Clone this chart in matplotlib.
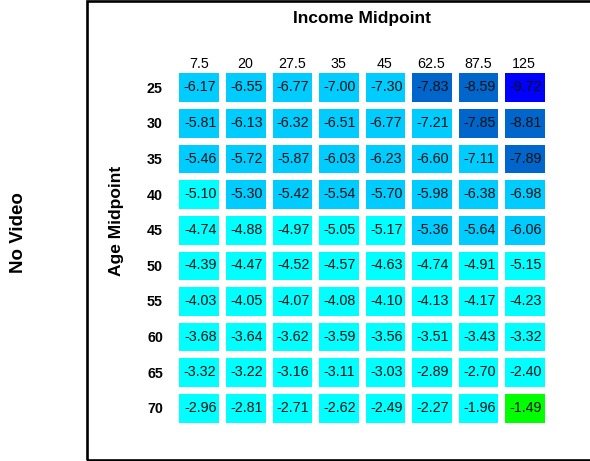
import matplotlib
matplotlib.use("Agg")
import matplotlib.pyplot as plt
import numpy as np
from matplotlib.colors import ListedColormap, BoundaryNorm
from matplotlib.patches import Rectangle

plt.rcParams['font.family'] = ['Liberation Sans', 'DejaVu Sans']

# income midpoints (columns) and age midpoints (rows)
income_labels = ["7.5", "20", "27.5", "35", "45", "62.5", "87.5", "125"]
age_labels = ["25", "30", "35", "40", "45", "50", "55", "60", "65", "70"]

age_25 = [-6.17, -6.55, -6.77, -7.00, -7.30, -7.83, -8.59, -9.72]
age_30 = [-5.81, -6.13, -6.32, -6.51, -6.77, -7.21, -7.85, -8.81]
age_35 = [-5.46, -5.72, -5.87, -6.03, -6.23, -6.60, -7.11, -7.89]
age_40 = [-5.10, -5.30, -5.42, -5.54, -5.70, -5.98, -6.38, -6.98]
age_45 = [-4.74, -4.88, -4.97, -5.05, -5.17, -5.36, -5.64, -6.06]
age_50 = [-4.39, -4.47, -4.52, -4.57, -4.63, -4.74, -4.91, -5.15]
age_55 = [-4.03, -4.05, -4.07, -4.08, -4.10, -4.13, -4.17, -4.23]
age_60 = [-3.68, -3.64, -3.62, -3.59, -3.56, -3.51, -3.43, -3.32]
age_65 = [-3.32, -3.22, -3.16, -3.11, -3.03, -2.89, -2.70, -2.40]
age_70 = [-2.96, -2.81, -2.71, -2.62, -2.49, -2.27, -1.96, -1.49]

effects = np.array([age_25, age_30, age_35, age_40, age_45,
                    age_50, age_55, age_60, age_65, age_70])

# binned colour scale
bin_edges = [-20, -9.0, -7.5, -5.25, -1.75, 20]
bin_colors = ["#0000ff", "#0066cc", "#00ccff", "#00ffff", "#00ff00"]
cmap = ListedColormap(bin_colors)
norm = BoundaryNorm(bin_edges, cmap.N)

W, H = 590, 461
fig = plt.figure(figsize=(W / 100, H / 100), dpi=100)

# outer frame
fig.add_artist(Rectangle((86.5 / W, 1 - 460 / H), 1.0, (459 / H),
                         transform=fig.transFigure, fill=False,
                         edgecolor="black", linewidth=1.9))

left, right, top, bottom = 175.5, 547.5, 69.5, 425.5
ax = fig.add_axes([left / W, 1 - bottom / H, (right - left) / W, (bottom - top) / H])

ax.pcolormesh(effects, cmap=cmap, norm=norm, edgecolors="white", linewidth=3.8)
ax.set_xlim(0, len(income_labels))
ax.set_ylim(len(age_labels), 0)

for i in range(len(age_labels)):
    for j in range(len(income_labels)):
        ax.text(j + 0.53, i + 0.5, f"{effects[i, j]:.2f}", ha="center", va="center",
                fontsize=10.3, color="#111111")

ax.set_xticks(np.arange(len(income_labels)) + 0.5)
ax.set_xticklabels(income_labels, fontsize=10.3)
ax.set_yticks(np.arange(len(age_labels)) + 0.5)
ax.set_yticklabels(age_labels, fontsize=10.3, fontweight="bold")
ax.tick_params(axis="x", top=True, labeltop=True, bottom=False, labelbottom=False,
               length=0, pad=-0.8)
ax.tick_params(axis="y", left=False, length=0, pad=9)
for s in ax.spines.values():
    s.set_visible(False)

fig.text(362 / W, 1 - 19 / H, "Income Midpoint", ha="center", va="center",
         fontsize=12.5, fontweight="bold")
fig.text(116 / W, 1 - 221 / H, "Age Midpoint", ha="center", va="center",
         rotation=90, fontsize=12.5, fontweight="bold")
fig.text(18.5 / W, 1 - 233 / H, "No Video", ha="center", va="center",
         rotation=90, fontsize=13.5, fontweight="bold")

fig.savefig("out.png", dpi=100)
